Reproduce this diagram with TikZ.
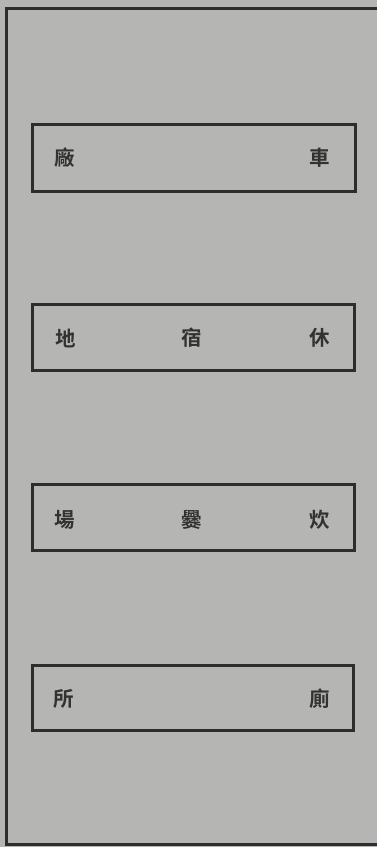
\documentclass[tikz,border=0pt]{standalone}
\usepackage{fontspec}
\newfontfamily\cjk[BoldFont={Noto Sans CJK TC Bold}]{Noto Sans CJK TC}
\definecolor{paper}{RGB}{181,181,179}
\definecolor{ink}{RGB}{45,45,45}
\definecolor{txt}{RGB}{50,50,50}
\begin{document}
\begin{tikzpicture}[x=1pt,y=-1pt,
  frame/.style={draw=ink,line width=3pt},
  zone/.style={draw=ink,line width=3pt,fill=none},
  lbl/.style={text=txt,font=\cjk\bfseries\fontsize{20.5}{20.5}\selectfont,inner sep=0pt}]
\fill[paper] (0,0) rectangle (377,847);
\useasboundingbox (0,0) rectangle (377,847);
% outer frame (open on the right)
\draw[frame] (377,8) -- (6,8) -- (6,844) -- (377,844);
% zones
\draw[zone] (32,124) rectangle (355,191) coordinate (z1);
\draw[zone] (32,304) rectangle (354,370) coordinate (z2);
\draw[zone] (32,484) rectangle (354,550) coordinate (z3);
\draw[zone] (32,665) rectangle (353,730) coordinate (z4);
% labels
\node[lbl] (a1) at (65,158) {廠};
\node[lbl] (a2) at (320,158) {車};
\node[lbl] (b1) at (66,338) {地};
\node[lbl] (b2) at (192,338) {宿};
\node[lbl] (b3) at (320,338) {休};
\node[lbl] (c1) at (65,520) {場};
\node[lbl] (c2) at (192,520) {爨};
\node[lbl] (c3) at (320,520) {炊};
\node[lbl] (d1) at (64,699) {所};
\node[lbl] (d2) at (320,699) {廁};
\end{tikzpicture}
\end{document}
